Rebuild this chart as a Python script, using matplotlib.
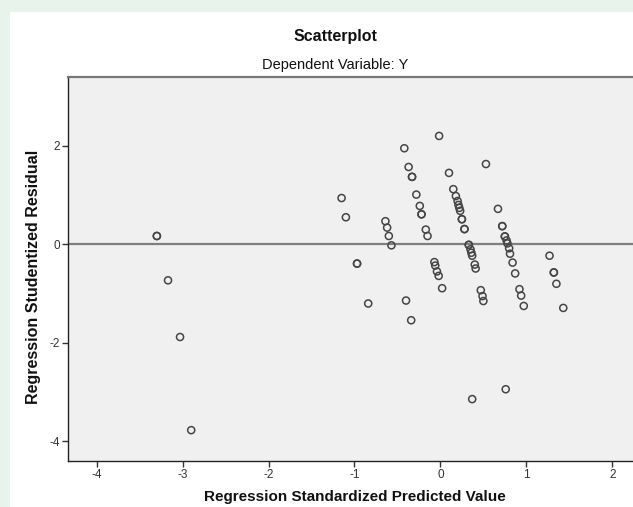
import matplotlib.pyplot as plt
import matplotlib.patches as patches

# predicted value (x) and studentized residual (y)
pred = [-3.30, -3.30, -3.17, -3.03, -2.90,
        -1.15, -1.10, -0.97, -0.97, -0.84,
        -0.64, -0.62, -0.60, -0.57,
        -0.42, -0.40, -0.37, -0.34, -0.33, -0.33,
        -0.28, -0.24, -0.22, -0.22, -0.17, -0.15,
        -0.07, -0.06, -0.04, -0.02, -0.015, 0.02,
        0.10, 0.15, 0.18, 0.20, 0.21, 0.22, 0.23,
        0.25, 0.25, 0.28, 0.28, 0.33, 0.33, 0.35, 0.36, 0.37,
        0.37, 0.40, 0.41, 0.47, 0.49, 0.50, 0.53,
        0.67, 0.72, 0.72, 0.75, 0.75, 0.77, 0.78, 0.80, 0.81, 0.84, 0.87,
        0.76, 0.92, 0.94, 0.97,
        1.27, 1.32, 1.32, 1.35, 1.43]
resid = [0.17, 0.17, -0.73, -1.88, -3.77,
         0.94, 0.55, -0.39, -0.39, -1.20,
         0.47, 0.34, 0.17, -0.02,
         1.95, -1.14, 1.57, -1.54, 1.37, 1.37,
         1.01, 0.78, 0.61, 0.61, 0.30, 0.17,
         -0.36, -0.43, -0.55, -0.64, 2.20, -0.89,
         1.45, 1.12, 0.98, 0.88, 0.80, 0.74, 0.68,
         0.51, 0.51, 0.31, 0.31, -0.01, -0.01, -0.10, -0.17, -0.23,
         -3.14, -0.41, -0.49, -0.93, -1.05, -1.15, 1.63,
         0.72, 0.37, 0.37, 0.16, 0.16, 0.08, 0.02, -0.08, -0.19, -0.37, -0.59,
         -2.94, -0.91, -1.04, -1.25,
         -0.23, -0.57, -0.57, -0.80, -1.29]

xticks = [-4, -3, -2, -1, 0, 1, 2]
yticks = [-4, -2, 0, 2]

plt.rcParams['font.family'] = ['Liberation Sans', 'DejaVu Sans']
plt.rcParams['axes.unicode_minus'] = False  # SPSS uses a plain hyphen

W, H = 633, 507
fig = plt.figure(figsize=(W / 100, H / 100), dpi=100, facecolor='#e8f3eb')

# white chart page on top of the pale green background (behind the axes)
fig.patches.append(patches.Rectangle((10 / W, 0), 1, 1 - 12 / H,
                                     transform=fig.transFigure,
                                     facecolor='white', edgecolor='none', zorder=-10))

# axes placed in pixels; right side runs past the crop like the original
x0px, x1px = 68, 681
ytop, ybot = 77.3, 460.7
ax = fig.add_axes([x0px / W, (H - ybot) / H, (x1px - x0px) / W, (ybot - ytop) / H])
ax.set_facecolor('#f0f0f0')
ax.set_xlim(-4.334, 2.8)
ax.set_ylim(-4.39, 3.39)

ax.axhline(0, color='#7f7f7f', lw=1.6, zorder=1)
ax.scatter(pred, resid, s=26, facecolors='none', edgecolors='#454545',
           linewidths=1.1, zorder=2)

ax.set_xticks(xticks)
ax.set_yticks(yticks)
ax.tick_params(length=4, width=1, color='#333333', labelsize=8.5,
               labelcolor='#333333', pad=2)

for s in ['left', 'bottom']:
    ax.spines[s].set_color('#222222')
    ax.spines[s].set_linewidth(1)
ax.spines['top'].set_color('#777777')
ax.spines['top'].set_linewidth(1.6)
ax.spines['right'].set_visible(False)

fig.text(335 / W, 1 - 37 / H, 'Scatterplot', ha='center', va='center',
         fontsize=11.5, fontweight='bold', color='#111111')
fig.text(335 / W, 1 - 65 / H, 'Dependent Variable: Y', ha='center', va='center',
         fontsize=10.5, color='#111111')
fig.text(355 / W, 1 - 497 / H, 'Regression Standardized Predicted Value',
         ha='center', va='center', fontsize=11, fontweight='bold', color='#111111')
fig.text(34 / W, 1 - 277 / H, 'Regression Studentized Residual', rotation=90,
         ha='center', va='center', fontsize=11.5, fontweight='bold', color='#111111')

fig.savefig('out.png', dpi=100, facecolor=fig.get_facecolor())
